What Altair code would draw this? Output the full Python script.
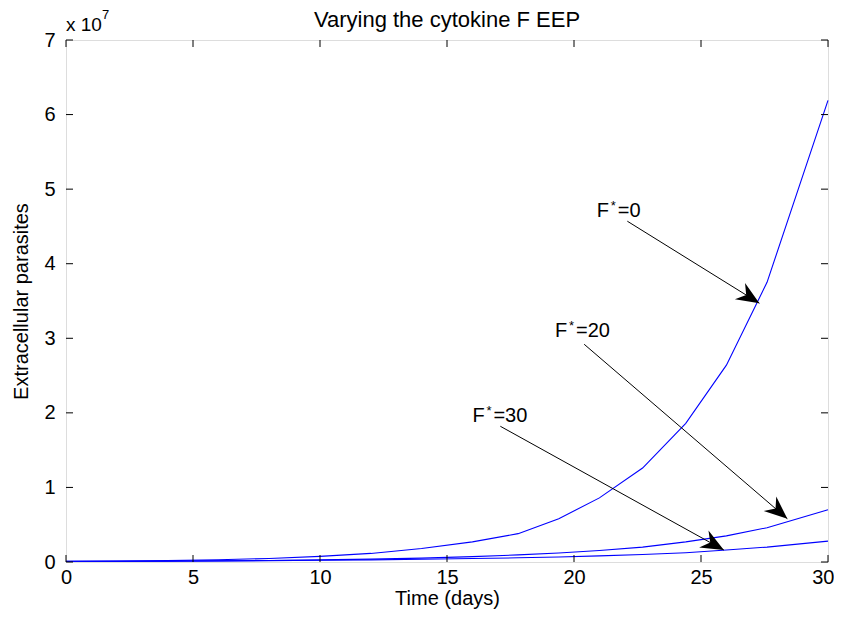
import math
import altair as alt
import pandas as pd

# Time points (days)
t = [0, 2, 4, 6, 8, 10, 12, 14, 16, 17.8, 19.4, 21.0, 22.7, 24.4, 26.0, 27.6, 30]
# Extracellular parasites, in units of 1e7
f0 = [0.008, 0.012, 0.019, 0.03, 0.047, 0.075, 0.115, 0.18, 0.27, 0.38, 0.58, 0.86, 1.26, 1.86, 2.64, 3.75, 6.19]
f20 = [0.006, 0.008, 0.011, 0.015, 0.02, 0.028, 0.038, 0.052, 0.072, 0.095, 0.12, 0.155, 0.2, 0.27, 0.35, 0.46, 0.70]
f30 = [0.008, 0.01, 0.012, 0.015, 0.018, 0.023, 0.029, 0.036, 0.046, 0.056, 0.068, 0.082, 0.1, 0.125, 0.16, 0.2, 0.28]

series_names = ["F*=0", "F*=20", "F*=30"]

# Annotations (data coordinates)
ann_label = ["=0", "=20", "=30"]
ann_x = [20.9, 19.25, 16.0]
ann_y = [4.62, 3.02, 1.88]
arr_x1 = [22.1, 20.4, 17.1]
arr_y1 = [4.57, 2.92, 1.82]
arr_x2 = [27.3, 28.4, 25.9]
arr_y2 = [3.47, 0.58, 0.16]

x_ticks = [0, 5, 10, 15, 20, 25, 30]
y_ticks = [0, 1, 2, 3, 4, 5, 6, 7]

title_text = "Varying the cytokine F EEP"

W, H = 762, 522
FONT = "Liberation Sans"

rows = []
for name, vals in zip(series_names, [f0, f20, f30]):
    for ti, v in zip(t, vals):
        rows.append({"t": ti, "v": v, "s": name})
df = pd.DataFrame(rows)

sx = W / 30.0
sy = H / 7.0
angles = []
for a, b, c, d in zip(arr_x1, arr_y1, arr_x2, arr_y2):
    ang = math.degrees(math.atan2(-(d - b) * sy, (c - a) * sx)) % 360
    angles.append(ang)

ann = pd.DataFrame({
    "lab": ann_label, "x": ann_x, "y": ann_y,
    "x1": arr_x1, "y1": arr_y1, "x2": arr_x2, "y2": arr_y2, "ang": angles,
})

xs = alt.Scale(domain=[0, 30], nice=False, zero=False)
ys = alt.Scale(domain=[0, 7], nice=False, zero=False)

X = alt.X("t:Q", scale=xs, axis=alt.Axis(
    values=x_ticks, format="d", title="Time (days)", ticks=False, domain=False, grid=False,
    labelFont=FONT, labelFontSize=20, labelColor="black", labelPadding=5,
    labelAlign={"condition": {"test": "datum.value == 30", "value": "right"}, "value": "center"},
    labelOffset={"condition": {"test": "datum.value == 30", "value": 6}, "value": 0},
    titleFont=FONT, titleFontSize=20, titleFontWeight="normal", titleColor="black",
    titlePadding=1, labelFlush=False))
Y = alt.Y("v:Q", scale=ys, axis=alt.Axis(
    values=y_ticks, format="d", title="Extracellular parasites", ticks=False, domain=False, grid=False,
    labelFont=FONT, labelFontSize=20, labelColor="black", labelPadding=11,
    titleFont=FONT, titleFontSize=20, titleFontWeight="normal", titleColor="black",
    titlePadding=12, labelFlush=False))

lines = alt.Chart(df).mark_line(color="#0000ff", strokeWidth=1.1).encode(
    x=X, y=Y, detail="s:N")

xt = pd.DataFrame({"t": x_ticks})
yt = pd.DataFrame({"v": y_ticks})
xtick_b = alt.Chart(xt).mark_rule(color="black").encode(
    x=alt.X("t:Q", scale=xs), y=alt.value(H), y2=alt.value(H - 7))
xtick_t = alt.Chart(xt).mark_rule(color="black").encode(
    x=alt.X("t:Q", scale=xs), y=alt.value(0), y2=alt.value(7))
ytick_l = alt.Chart(yt).mark_rule(color="black").encode(
    y=alt.Y("v:Q", scale=ys), x=alt.value(0), x2=alt.value(7))
ytick_r = alt.Chart(yt).mark_rule(color="black").encode(
    y=alt.Y("v:Q", scale=ys), x=alt.value(W), x2=alt.value(W - 7))

base = alt.Chart(ann)
arrows = base.mark_rule(color="black", strokeWidth=1).encode(
    x=alt.X("x1:Q", scale=xs), y=alt.Y("y1:Q", scale=ys),
    x2="x2:Q", y2="y2:Q")
heads = base.mark_point(
    shape="M0,0 L-1,-0.42 L-0.68,0 L-1,0.42 Z", filled=True, color="black",
    opacity=1, size=2100, strokeWidth=0).encode(
    x=alt.X("x2:Q", scale=xs), y=alt.Y("y2:Q", scale=ys), angle=alt.Angle("ang:Q", scale=None))
txt_f = base.mark_text(text="F", font=FONT, fontSize=20, align="left", baseline="alphabetic",
                       color="black").encode(x=alt.X("x:Q", scale=xs), y=alt.Y("y:Q", scale=ys))
txt_star = base.mark_text(text="*", font=FONT, fontSize=13, align="left", baseline="alphabetic",
                          dx=14, dy=-7, color="black").encode(x=alt.X("x:Q", scale=xs), y=alt.Y("y:Q", scale=ys))
txt_rest = base.mark_text(font=FONT, fontSize=20, align="left", baseline="alphabetic",
                          dx=21, color="black").encode(
    x=alt.X("x:Q", scale=xs), y=alt.Y("y:Q", scale=ys), text="lab:N")

exp_df = pd.DataFrame({"x": [0], "y": [7]})
exp_main = alt.Chart(exp_df).mark_text(text="x 10", font=FONT, fontSize=19, align="left",
                                       baseline="alphabetic", dx=0, dy=-9, color="black").encode(
    x=alt.X("x:Q", scale=xs), y=alt.Y("y:Q", scale=ys))
exp_sup = alt.Chart(exp_df).mark_text(text="7", font=FONT, fontSize=13, align="left",
                                      baseline="alphabetic", dx=36, dy=-21, color="black").encode(
    x=alt.X("x:Q", scale=xs), y=alt.Y("y:Q", scale=ys))

title_df = pd.DataFrame({"title": [title_text]})
title_mark = alt.Chart(title_df).mark_text(font=FONT, fontSize=22, align="center",
                                           baseline="alphabetic", color="black").encode(
    x=alt.value(W / 2), y=alt.value(-13), text="title:N")

chart = alt.layer(
    lines, xtick_b, xtick_t, ytick_l, ytick_r, arrows, heads,
    txt_f, txt_star, txt_rest, exp_main, exp_sup, title_mark
).properties(
    width=W, height=H,
    autosize=alt.AutoSizeParams(type="none"),
    padding={"left": 58, "top": 32, "right": 6, "bottom": 51},
).configure_view(stroke="black", strokeWidth=1.5).configure(background="white")

chart.save("out.html", embed_options={"renderer": "svg", "actions": False})
